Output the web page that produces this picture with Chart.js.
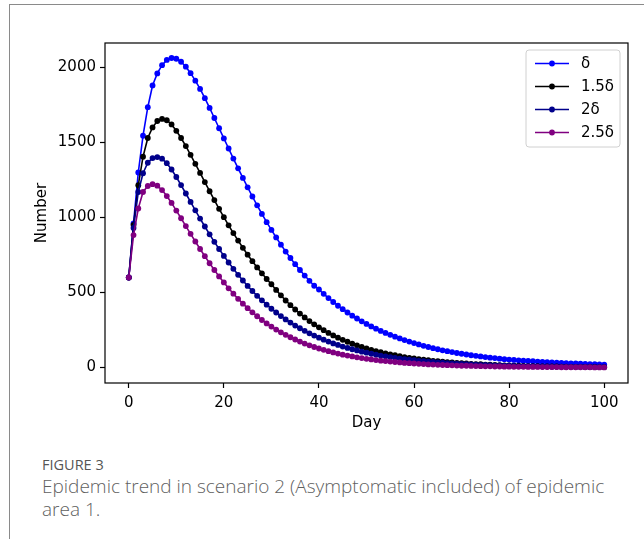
<!DOCTYPE html>
<html>
<head>
<meta charset="utf-8">
<script src="https://cdn.jsdelivr.net/npm/chart.js@4/dist/chart.umd.min.js"></script>
<style>
  html, body { margin: 0; padding: 0; background: #fff; width: 644px; height: 539px; overflow: hidden; }
  #frame { position: absolute; left: 9px; top: 4px; width: 700px; height: 600px; border-left: 1.5px solid #8a8a8a; border-top: 1.5px solid #8a8a8a; }
  #wrap { position: absolute; left: 0; top: 0; width: 644px; height: 440px; }
  #fig { position: absolute; left: 42px; top: 455px; font-family: "Open Sans", "Noto Sans", sans-serif; font-size: 14.5px; color: #555; }
  #cap { position: absolute; left: 42px; top: 475px; font-family: "Open Sans", "Noto Sans", sans-serif; font-size: 19px; line-height: 23px; color: #5f5f5f; font-weight: 300; white-space: nowrap; }
</style>
</head>
<body>
<div id="frame"></div>
<div id="wrap"><canvas id="c" width="644" height="440"></canvas></div>
<div id="fig">FIGURE 3</div>
<div id="cap">Epidemic trend in scenario 2 (Asymptomatic included) of epidemic<br>area 1.</div>
<script>
const days = Array.from({length: 101}, (_, i) => i);
const seriesNames = ["δ", "1.5δ", "2δ", "2.5δ"];
const xTicks = [0, 20, 40, 60, 80, 100];
const yTicks = [0, 500, 1000, 1500, 2000];

const delta = [600,960,1300,1545,1735,1880,1960,2015,2050,2063,2058,2038,2005,1962,1912,1857,1795,1730,1663,1595,
1527,1460,1393,1328,1264,1201,1140,1081,1024,969,917,867,819,773,730,689,650,613,578,545,
520,491,463,437,412,389,367,346,327,308,291,274,259,244,231,218,206,194,183,173,
163,154,145,137,129,122,115,109,103,97,92,87,82,78,74,70,66,63,59,56,
53,51,48,46,44,42,40,38,36,34,33,31,30,28,27,26,24,23,22,21,20];
const delta15 = [600,950,1215,1405,1530,1600,1643,1657,1648,1620,1578,1530,1476,1418,1358,1297,1236,1175,1116,1058,
1002,948,896,846,798,752,709,667,628,590,555,517,481,447,416,387,360,334,310,288,
268,249,231,214,199,185,172,159,148,137,127,118,110,102,95,88,82,76,70,65,
61,56,52,49,45,42,39,36,34,31,29,27,25,23,22,20,19,18,16,15,
14,13,12,11,10,10,9,8,8,7,7,6,6,5,5,5,4,4,4,3,3];
const delta2 = [600,930,1170,1295,1365,1396,1403,1392,1362,1320,1270,1216,1160,1104,1048,993,940,888,838,790,
744,700,658,618,580,544,510,478,448,419,392,367,343,321,300,280,262,245,228,213,
199,186,173,161,151,140,131,122,114,106,99,92,86,80,75,70,65,60,56,52,
49,45,42,39,37,34,32,30,28,26,24,22,21,19,18,17,16,15,14,13,
12,11,10,9,9,8,8,7,7,6,6,5,5,5,4,4,4,3,3,3,3];
const delta25 = [600,883,1060,1170,1210,1222,1212,1183,1143,1097,1046,995,943,891,840,790,742,695,650,607,
567,528,492,458,426,396,368,342,317,294,273,253,235,218,202,187,173,160,148,137,
127,118,109,101,93,86,80,74,68,63,58,54,50,46,43,40,37,34,31,29,
27,25,23,21,20,18,17,16,15,13,12,12,11,10,9,8,8,7,7,6,
6,5,5,5,4,4,4,3,3,3,3,2,2,2,2,2,2,2,1,1,1];

const colors = ["#0000ff", "#000000", "#00008b", "#800080"];
const allSeries = [delta, delta15, delta2, delta25];

const FONT = "DejaVu Sans";

const datasets = allSeries.map((vals, k) => ({
  label: seriesNames[k],
  data: vals.map((v, i) => ({x: days[i], y: v})),
  borderColor: colors[k],
  backgroundColor: colors[k],
  borderWidth: 1.6,
  pointRadius: 2.9,
  pointBorderWidth: 0,
  pointHoverRadius: 2.9,
  order: 4 - k,
  tension: 0
}));

const boxPlugin = {
  id: 'boxAndLegend',
  afterDatasetsDraw(chart) {
    const {ctx, chartArea: a} = chart;
    ctx.save();
    ctx.strokeStyle = '#000';
    ctx.lineWidth = 1.2;
    ctx.strokeRect(a.left, a.top, a.right - a.left, a.bottom - a.top);
    const lx = 526, ly = 50, lw = 94, lh = 97, r = 3;
    ctx.beginPath();
    ctx.moveTo(lx + r, ly);
    ctx.arcTo(lx + lw, ly, lx + lw, ly + lh, r);
    ctx.arcTo(lx + lw, ly + lh, lx, ly + lh, r);
    ctx.arcTo(lx, ly + lh, lx, ly, r);
    ctx.arcTo(lx, ly, lx + lw, ly, r);
    ctx.closePath();
    ctx.fillStyle = 'rgba(255,255,255,0.85)';
    ctx.fill();
    ctx.strokeStyle = '#d0d0d0';
    ctx.lineWidth = 1;
    ctx.stroke();
    ctx.font = "15px '" + FONT + "'";
    ctx.textBaseline = 'middle';
    seriesNames.forEach((name, k) => {
      const y = 63.5 + k * 23;
      ctx.strokeStyle = colors[k];
      ctx.lineWidth = 1.6;
      ctx.beginPath();
      ctx.moveTo(535, y);
      ctx.lineTo(569, y);
      ctx.stroke();
      ctx.fillStyle = colors[k];
      ctx.beginPath();
      ctx.arc(552, y, 2.9, 0, Math.PI * 2);
      ctx.fill();
      ctx.fillStyle = '#000';
      ctx.fillText(name, 581, y + 1);
    });
    ctx.restore();
  }
};

new Chart(document.getElementById('c'), {
  type: 'line',
  data: { datasets },
  options: {
    responsive: false,
    animation: false,
    events: [],
    layout: { padding: { left: 0, right: 16, top: 43, bottom: 0 } },
    plugins: { legend: { display: false }, tooltip: { enabled: false } },
    scales: {
      x: {
        type: 'linear',
        min: -5, max: 105,
        afterFit(s) { s.height = 57; },
        afterBuildTicks(s) { s.ticks = xTicks.map(v => ({value: v})); },
        grid: { display: true, drawOnChartArea: false, tickLength: 5, color: '#000', tickWidth: 1.2 },
        border: { display: false },
        ticks: { color: '#000', font: { family: FONT, size: 15 }, padding: 6, maxRotation: 0, callback: v => String(v) },
        title: { display: true, text: 'Day', color: '#000', font: { family: FONT, size: 15 }, padding: { top: 0, bottom: 8 } }
      },
      y: {
        type: 'linear',
        min: -103, max: 2163,
        afterFit(s) { s.width = 105; },
        afterBuildTicks(s) { s.ticks = yTicks.map(v => ({value: v})); },
        grid: { display: true, drawOnChartArea: false, tickLength: 5, color: '#000', tickWidth: 1.2 },
        border: { display: false },
        ticks: { color: '#000', font: { family: FONT, size: 15 }, padding: 4, callback: v => String(v) },
        title: { display: true, text: 'Number', color: '#000', font: { family: FONT, size: 15 }, padding: { top: 33, bottom: 0 } }
      }
    }
  },
  plugins: [boxPlugin]
});
</script>
</body>
</html>
